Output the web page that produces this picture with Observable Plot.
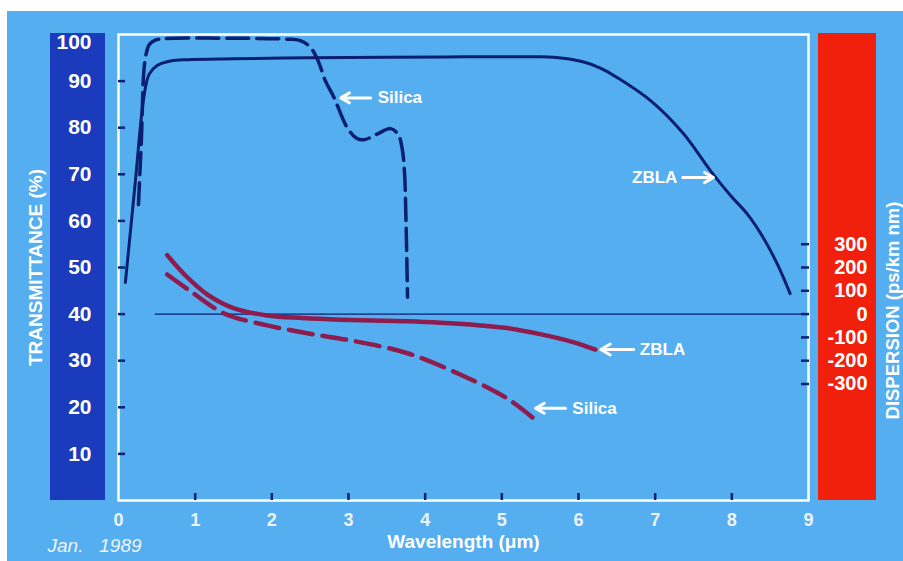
<!DOCTYPE html>
<html>
<head>
<meta charset="utf-8">
<script src="https://cdn.jsdelivr.net/npm/d3@7"></script>
<script src="https://cdn.jsdelivr.net/npm/@observablehq/plot@0.6"></script>
<style>
  html, body { margin: 0; padding: 0; background: #ffffff; }
  #wrap { position: relative; width: 903px; height: 561px; overflow: hidden; font-family: "Liberation Sans", Arial, sans-serif; }
  #bg { position: absolute; left: 7px; top: 11px; width: 896px; height: 550px; background: #55aeef; }
  #barL { position: absolute; left: 50px; top: 33px; width: 55px; height: 467px; background: #1a3bbb; }
  #barR { position: absolute; left: 818px; top: 33px; width: 58px; height: 467px; background: #f0200c; }
  #chart { position: absolute; left: 0; top: 0; }
  #chart svg { overflow: visible; }
</style>
</head>
<body>
<div id="wrap">
  <div id="bg"></div>
  <div id="barL"></div>
  <div id="barR"></div>
  <div id="chart"></div>
</div>
<script>
// ---- Data ----
// Transmittance (%) vs wavelength (µm)
const zblaTransX = [0.09, 0.22, 0.33, 0.40, 0.50, 0.68, 0.90, 1.5, 2.5, 3.5, 4.5, 5.5, 5.8, 6.07, 6.3, 6.5, 6.94, 7.37, 7.72, 7.98, 8.2, 8.41, 8.6, 8.76];
const zblaTransY = [46.8, 68.5, 86.5, 91.5, 93.3, 94.3, 94.6, 94.8, 95.0, 95.1, 95.2, 95.2, 94.9, 94.1, 92.7, 90.8, 85.8, 78.7, 70.8, 65.5, 61.5, 56.4, 50.5, 44.4];

const silicaTransX = [0.26, 0.30, 0.33, 0.36, 0.40, 0.48, 0.60, 1.5, 2.2, 2.37, 2.5, 2.6, 2.7, 2.81, 2.98, 3.1, 3.2, 3.37, 3.55, 3.65, 3.70, 3.73, 3.75, 3.77];
const silicaTransY = [63.5, 78.0, 92.0, 95.8, 97.8, 98.8, 99.1, 99.2, 99.0, 98.7, 97.3, 94.5, 90.0, 86.5, 80.1, 77.8, 77.4, 78.6, 79.8, 78.5, 75.5, 70.5, 60.0, 43.6];

// Dispersion (ps/km nm) vs wavelength (µm)
const zblaDispX = [0.635, 0.86, 1.16, 1.5, 1.94, 2.4, 2.89, 3.76, 4.2, 4.63, 5.07, 5.5, 5.94, 6.22];
const zblaDispY = [253, 170, 84, 26, -6, -17, -24, -31, -37, -46, -60, -86, -121, -152];

const silicaDispX = [0.635, 0.94, 1.37, 1.81, 2.46, 3.11, 3.77, 4.42, 5.07, 5.46];
const silicaDispY = [170, 98, 4, -39, -82, -118, -168, -254, -362, -460];

// Axes ticks
const xTickLabels = [0, 1, 2, 3, 4, 5, 6, 7, 8, 9];
const xTickMarks = [1, 2, 3, 4, 5, 6, 7, 8];
const yTickLabels = [10, 20, 30, 40, 50, 60, 70, 80, 90];
const yTopLabel = [100];
const yTickMarks = [10, 20, 30, 40, 50, 60, 70, 80, 90];
const dispTicks = [300, 200, 100, 0, -100, -200, -300];
const zeroLineStartX = 0.48;

// Annotations
const annotLabels = ["Silica", "ZBLA", "ZBLA", "Silica"];
const annotAxis = ["T", "T", "D", "D"];
const annotTipX = [2.90, 7.76, 6.29, 5.44];
const annotTailX = [3.29, 7.36, 6.72, 5.83];
const annotY = [86.4, 69.3, -152, -404];
const annotTextX = [3.38, 7.29, 6.80, 5.92];
const annotAnchor = ["start", "end", "start", "start"];

// ---- Dual axis: dispersion mapped onto the transmittance scale ----
const toY = d => 40 + d / 20;

const zblaTrans = zblaTransX.map((x, i) => ({x, y: zblaTransY[i]}));
const silicaTrans = silicaTransX.map((x, i) => ({x, y: silicaTransY[i]}));
const zblaDisp = zblaDispX.map((x, i) => ({x, y: toY(zblaDispY[i])}));
const silicaDisp = silicaDispX.map((x, i) => ({x, y: toY(silicaDispY[i])}));
const annots = annotLabels.map((t, i) => {
  const y = annotAxis[i] === "D" ? toY(annotY[i]) : annotY[i];
  return {text: t, x1: annotTailX[i], x2: annotTipX[i], tx: annotTextX[i], y, anchor: annotAnchor[i]};
});

const navy = "#0b1f70";
const maroon = "#8e1c4c";
const font = "'Liberation Sans', Arial, sans-serif";
const annStyle = {x: "tx", y: "y", text: "text", fontSize: 17, fontWeight: "bold", fill: "white"};

const chart = Plot.plot({
  width: 903,
  height: 561,
  marginLeft: 118,
  marginRight: 95,
  marginTop: 34,
  marginBottom: 61,
  style: {background: "transparent", fontFamily: font, overflow: "visible"},
  x: {domain: [0, 9]},
  y: {domain: [0, 100]},
  marks: [
    Plot.frame({stroke: "white", strokeWidth: 2.5}),
    // zero dispersion line
    Plot.ruleY([toY(0)], {x1: zeroLineStartX, x2: 9, stroke: navy, strokeWidth: 1.2}),
    // bottom axis
    Plot.axisX(xTickLabels, {anchor: "bottom", tickSize: 0, tickPadding: 13, fontSize: 18, fontWeight: "bold", fill: "#eef3fa", label: null}),
    Plot.axisX(xTickMarks, {anchor: "bottom", tickSize: -7, tickFormat: () => "", stroke: navy, strokeWidth: 2.5, label: null}),
    // left axis
    Plot.axisY(yTickLabels, {anchor: "left", tickSize: 0, tickPadding: 27, fontSize: 21, fontWeight: "bold", fill: "white", label: null}),
    Plot.axisY(yTopLabel, {anchor: "left", tickSize: 0, tickPadding: 27, dy: 8, fontSize: 21, fontWeight: "bold", fill: "white", label: null}),
    Plot.axisY(yTickMarks, {anchor: "left", tickSize: -7, tickFormat: () => "", stroke: navy, strokeWidth: 2.5, label: null}),
    // right axis (dispersion)
    Plot.axisY(dispTicks.map(toY), {
      anchor: "right", tickSize: 0, tickPadding: 59, textAnchor: "end",
      tickFormat: v => { const d = Math.round((v - 40) * 20); return d < 0 ? "-" + (-d) : String(d); },
      fontSize: 20, fontWeight: "bold", fill: "white", label: null
    }),
    Plot.axisY(dispTicks.map(toY), {anchor: "right", tickSize: -8, tickFormat: () => "", stroke: navy, strokeWidth: 2.5, label: null}),
    // transmittance curves
    Plot.line(zblaTrans, {x: "x", y: "y", curve: "catmull-rom", stroke: navy, strokeWidth: 3}),
    Plot.line(silicaTrans, {x: "x", y: "y", curve: "catmull-rom", stroke: navy, strokeWidth: 3.5, strokeDasharray: "22,8"}),
    // dispersion curves
    Plot.line(zblaDisp, {x: "x", y: "y", curve: "catmull-rom", stroke: maroon, strokeWidth: 4.5}),
    Plot.line(silicaDisp, {x: "x", y: "y", curve: "catmull-rom", stroke: maroon, strokeWidth: 4.5, strokeDasharray: "24,10"}),
    // annotations
    Plot.arrow(annots, {x1: "x1", y1: "y", x2: "x2", y2: "y", stroke: "white", strokeWidth: 3, headLength: 9}),
    Plot.text(annots.filter(d => d.anchor === "start"), {...annStyle, textAnchor: "start"}),
    Plot.text(annots.filter(d => d.anchor === "end"), {...annStyle, textAnchor: "end"}),
    // titles
    Plot.text(["TRANSMITTANCE (%)"], {text: d => d, frameAnchor: "left", textAnchor: "middle", dx: -83, rotate: -90, fontSize: 19, fontWeight: "bold", fill: "white"}),
    Plot.text(["DISPERSION (ps/km nm)"], {text: d => d, frameAnchor: "right", textAnchor: "middle", dx: 85, dy: 43, rotate: -90, fontSize: 18.5, fontWeight: "bold", fill: "white"}),
    Plot.text(["Wavelength (\u03bcm)"], {text: d => d, frameAnchor: "bottom", textAnchor: "middle", dy: 47, fontSize: 19, fontWeight: "bold", fill: "white"}),
    Plot.text(["Jan.\u00a0\u00a0 1989"], {text: d => d, frameAnchor: "bottom-left", dx: -71, dy: 51, textAnchor: "start", fontSize: 19, fontStyle: "italic", fill: "#eef4ff"})
  ]
});
document.getElementById("chart").appendChild(chart);
</script>
</body>
</html>
